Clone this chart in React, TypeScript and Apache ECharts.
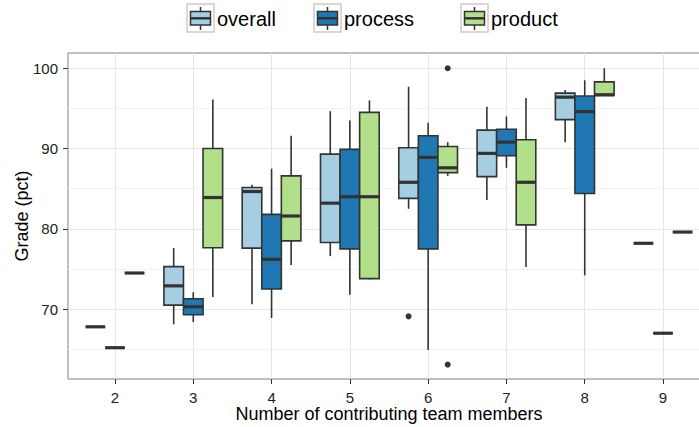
import React, { useEffect, useRef } from "react";
import * as echarts from "echarts";

// Team sizes on the x axis
const teamSizes = [2, 3, 4, 5, 6, 7, 8, 9];

// Grade categories
const groupNames = ["overall", "process", "product"];
const groupColors = ["#A6CEE3", "#1F78B4", "#B2DF8A"];

// Box statistics per team size: [lower whisker, Q1, median, Q3, upper whisker]
const overallStats = [
  [67.8, 67.8, 67.8, 67.8, 67.8],
  [68.1, 70.5, 72.9, 75.3, 77.6],
  [70.6, 77.6, 84.65, 85.15, 85.5],
  [76.6, 78.3, 83.2, 89.3, 94.65],
  [82.5, 83.8, 85.8, 90.1, 97.7],
  [83.6, 86.5, 89.4, 92.3, 95.2],
  [90.8, 93.6, 96.4, 96.9, 97.3],
  [78.2, 78.2, 78.2, 78.2, 78.2],
];
const processStats = [
  [65.2, 65.2, 65.2, 65.2, 65.2],
  [68.4, 69.3, 70.3, 71.3, 72.1],
  [68.9, 72.5, 76.2, 81.8, 87.5],
  [71.8, 77.5, 84.0, 89.9, 93.5],
  [64.9, 77.5, 88.9, 91.6, 93.2],
  [87.6, 89.1, 90.8, 92.4, 94.0],
  [74.2, 84.4, 94.6, 96.55, 98.5],
  [67.0, 67.0, 67.0, 67.0, 67.0],
];
const productStats = [
  [74.5, 74.5, 74.5, 74.5, 74.5],
  [71.5, 77.65, 83.9, 90.0, 96.1],
  [75.5, 78.5, 81.6, 86.6, 91.6],
  [73.7, 73.8, 84.0, 94.5, 96.0],
  [86.6, 87.0, 87.6, 90.25, 90.8],
  [75.25, 80.5, 85.8, 91.1, 96.3],
  [96.6, 96.6, 96.7, 98.3, 100.0],
  [79.6, 79.6, 79.6, 79.6, 79.6],
];

// Outliers: [team size, grade]
const overallOutliers = [[6, 69.1]];
const processOutliers: number[][] = [];
const productOutliers = [
  [6, 100.0],
  [6, 63.1],
];

// Y axis ticks
const yTicks = [70, 80, 90, 100];
const yMinorTicks = [65, 75, 85, 95];

const allStats = [overallStats, processStats, productStats];
const allOutliers = [overallOutliers, processOutliers, productOutliers];

const FONT = "'Liberation Sans', Arial, Helvetica, sans-serif";
const INK = "#333333";
const BOX_WIDTH = 0.25; // in x-axis units
const DODGE = [-0.25, 0, 0.25];

// Legend layout (pixels)
const LEGEND_X = [187, 314, 461];
const LEGEND_Y = 4;

function buildLegend() {
  const elements: any[] = [];
  groupNames.forEach((name, i) => {
    const x = LEGEND_X[i];
    const y = LEGEND_Y;
    elements.push(
      {
        type: "rect",
        shape: { x: x, y: y, width: 27, height: 28 },
        style: { fill: "#ffffff", stroke: "#CCCCCC", lineWidth: 1.5 },
      },
      {
        type: "line",
        shape: { x1: x + 13.5, y1: y + 3, x2: x + 13.5, y2: y + 26 },
        style: { stroke: INK, lineWidth: 1.5 },
      },
      {
        type: "rect",
        shape: { x: x + 3.5, y: y + 7.5, width: 20, height: 13.5 },
        style: { fill: groupColors[i], stroke: INK, lineWidth: 1.5 },
      },
      {
        type: "line",
        shape: { x1: x + 3.5, y1: y + 14.3, x2: x + 23.5, y2: y + 14.3 },
        style: { stroke: INK, lineWidth: 2.5 },
      },
      {
        type: "text",
        x: x + 30,
        y: y + 15,
        style: {
          text: name,
          fill: "#000000",
          font: `20px ${FONT}`,
          textVerticalAlign: "middle",
          textAlign: "left",
        },
      }
    );
  });
  return elements;
}

function makeBoxSeries(g: number) {
  const data = teamSizes.map((s, i) => [s, ...allStats[g][i]]);
  return {
    type: "custom",
    name: groupNames[g],
    xAxisIndex: 0,
    yAxisIndex: 0,
    data,
    encode: { x: 0, y: [1, 2, 3, 4, 5] },
    renderItem: (params: any, api: any) => {
      const xv = (api.value(0) as number) + DODGE[g];
      const unit = api.size([1, 0])[0];
      const half = (unit * BOX_WIDTH) / 2;
      const low = api.coord([xv, api.value(1)]);
      const cx = low[0];
      const yLow = low[1];
      const yQ1 = api.coord([xv, api.value(2)])[1];
      const yMed = api.coord([xv, api.value(3)])[1];
      const yQ3 = api.coord([xv, api.value(4)])[1];
      const yHigh = api.coord([xv, api.value(5)])[1];
      const stroke = { stroke: INK, lineWidth: 1.6 };
      return {
        type: "group",
        children: [
          { type: "line", shape: { x1: cx, y1: yHigh, x2: cx, y2: yQ3 }, style: stroke },
          { type: "line", shape: { x1: cx, y1: yQ1, x2: cx, y2: yLow }, style: stroke },
          {
            type: "rect",
            shape: { x: cx - half, y: yQ3, width: half * 2, height: yQ1 - yQ3 },
            style: { fill: groupColors[g], stroke: INK, lineWidth: 1.6 },
          },
          {
            type: "line",
            shape: { x1: cx - half, y1: yMed, x2: cx + half, y2: yMed },
            style: { stroke: INK, lineWidth: 3.2 },
          },
        ],
      };
    },
  };
}

function makeOutlierSeries(g: number) {
  return {
    type: "scatter",
    name: groupNames[g] + " outliers",
    xAxisIndex: 0,
    yAxisIndex: 0,
    data: allOutliers[g].map(([s, v]) => [s + DODGE[g], v]),
    symbol: "circle",
    symbolSize: 6,
    itemStyle: { color: "#000000" },
    z: 5,
  };
}

export default function App() {
  const ref = useRef<HTMLDivElement>(null);

  useEffect(() => {
    document.body.style.margin = "0";
    if (!ref.current) return;
    const chart = echarts.init(ref.current, undefined, { renderer: "svg" });
    const yMin = 61.3;
    const yMax = 101.9;
    chart.setOption({
      animation: false,
      backgroundColor: "#ffffff",
      textStyle: { fontFamily: FONT },
      grid: {
        left: 68,
        right: -11,
        top: 53,
        bottom: 48,
        containLabel: false,
        outerBoundsMode: "none",
        show: true,
        borderColor: "#7F7F7F",
        borderWidth: 1,
        backgroundColor: "#ffffff",
      },
      xAxis: {
        type: "value",
        min: 1.4,
        max: 9.6,
        axisLine: { show: false },
        axisTick: {
          show: true,
          customValues: teamSizes,
          length: 5,
          lineStyle: { color: INK, width: 1 },
        },
        axisLabel: {
          customValues: teamSizes,
          fontSize: 15,
          lineHeight: 14,
          color: "#222222",
          margin: 11,
          fontFamily: FONT,
        },
        splitLine: { show: true, lineStyle: { color: "#E5E5E5", width: 1 } },
        name: "Number of contributing team members",
        nameLocation: "middle",
        nameMoveOverlap: false,
        nameGap: 26,
        nameTextStyle: {
          fontSize: 18,
          lineHeight: 18,
          color: "#000000",
          fontFamily: FONT,
        },
      },
      yAxis: [
        {
          type: "value",
          min: yMin,
          max: yMax,
          axisLine: { show: false },
          axisTick: {
            show: true,
            customValues: yTicks,
            length: 5,
            lineStyle: { color: INK, width: 1 },
          },
          axisLabel: {
            customValues: yTicks,
            fontSize: 15,
            color: "#222222",
            margin: 10,
            fontFamily: FONT,
          },
          splitLine: { show: true, lineStyle: { color: "#E5E5E5", width: 1 } },
          name: "Grade (pct)",
          nameLocation: "middle",
          nameMoveOverlap: false,
          nameRotate: 90,
          nameGap: 37,
          nameTextStyle: { fontSize: 18, color: "#000000", fontFamily: FONT },
        },
        {
          type: "value",
          min: yMin,
          max: yMax,
          position: "left",
          axisLine: { show: false },
          axisTick: { show: false, customValues: yMinorTicks },
          axisLabel: { show: false, customValues: yMinorTicks },
          splitLine: { show: true, lineStyle: { color: "#F3F3F3", width: 1 } },
        },
      ],
      graphic: buildLegend(),
      series: [0, 1, 2].flatMap((g) => [makeBoxSeries(g), makeOutlierSeries(g)]),
    });
    return () => chart.dispose();
  }, []);

  return (
    <div
      ref={ref}
      style={{ position: "fixed", left: 0, top: 0, width: 699, height: 427 }}
    />
  );
}
